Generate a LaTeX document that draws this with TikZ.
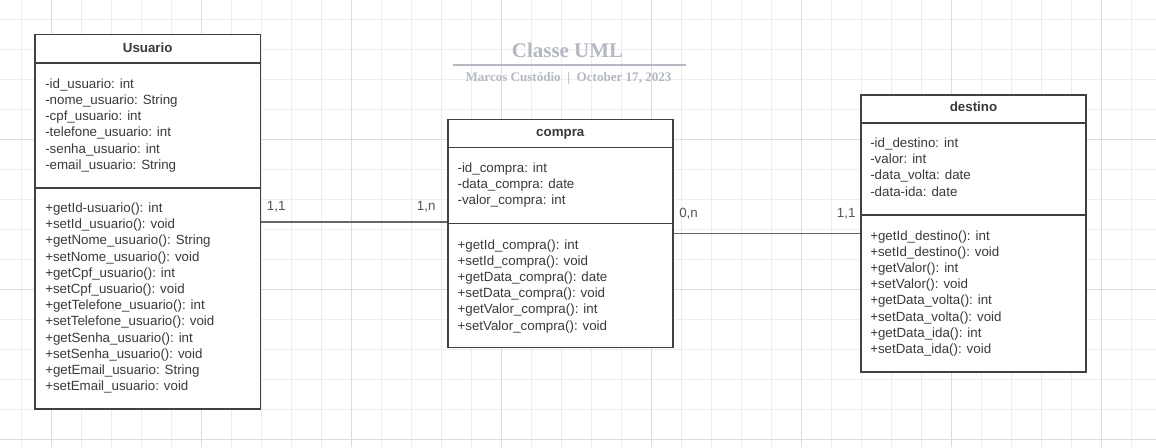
\documentclass[tikz,border=0pt]{standalone}
\usepackage{fontspec}
\setmainfont{Liberation Sans}
\newfontfamily\titlefont{Liberation Serif}
\usetikzlibrary{fit}
\definecolor{gridminor}{HTML}{EDEDED}
\definecolor{gridmajor}{HTML}{DCDCDC}
\definecolor{boxline}{HTML}{404040}
\definecolor{txtcol}{HTML}{3A3A3A}
\definecolor{lblcol}{HTML}{555555}
\definecolor{ttlcol}{HTML}{B3B8C1}
\tikzset{
  classbox/.style={draw=boxline, line width=1.2pt, fill=white, inner sep=0pt},
  divider/.style={draw=boxline, line width=1.2pt},
  member/.style={inner sep=0pt, anchor=base west, text=txtcol, font=\fontsize{10}{12}\selectfont},
  classname/.style={inner sep=0pt, anchor=base, text=txtcol, font=\bfseries\fontsize{10}{12}\selectfont},
  conn/.style={draw=lblcol!90, line width=0.8pt},
  mult/.style={inner sep=0pt, anchor=base west, text=lblcol, font=\fontsize{10}{12}\selectfont},
}
\begin{document}
\begin{tikzpicture}[x=0.75pt,y=-0.75pt]
\useasboundingbox (0,0) rectangle (1156,447);
\fill[white] (0,0) rectangle (1156,447);
% grid
\foreach \x in {21.7,51.7,...,1150} \draw[gridminor, line width=0.75pt] (\x,0) -- (\x,447);
\foreach \y in {19,49,...,447} \draw[gridminor, line width=0.75pt] (0,\y) -- (1156,\y);
\foreach \x in {51.7,201.7,...,1150} \draw[gridmajor, line width=0.75pt] (\x,0) -- (\x,447);
\foreach \y in {139,289,439} \draw[gridmajor, line width=0.75pt] (0,\y) -- (1156,\y);

% title
\node[inner sep=0pt, anchor=base, text=ttlcol, font=\titlefont\bfseries\fontsize{15.7}{18}\selectfont] (title) at (567.5,57) {Classe UML};
\coordinate (tl) at (453,65);
\coordinate (tr) at (686,65);
\draw[ttlcol, line width=1.4pt] (tl) -- (tr);
\node[inner sep=0pt, anchor=base, text=ttlcol, font=\titlefont\bfseries\fontsize{9.8}{12}\selectfont] (subtitle) at (568.5,81.5) {Marcos Custódio\hspace{0.5em}|\hspace{0.5em}October 17, 2023};

% Usuario
\node[classbox, fit={(35,34.3) (260.3,408.7)}] (usuario) {};
\draw[divider] (usuario.west |- 0,62.7) -- (usuario.east |- 0,62.7);
\draw[divider] (usuario.west |- 0,187.7) -- (usuario.east |- 0,187.7);
\node[classname] (usuario-name) at (147.7,52.7) {Usuario};
\foreach \t [count=\i from 0] in {-id\_usuario: int,-nome\_usuario: String,-cpf\_usuario: int,-telefone\_usuario: int,-senha\_usuario: int,-email\_usuario: String}
  \node[member] (usuario-a\i) at (45,88.3+16.2*\i) {\t};
\foreach \t [count=\i from 0] in {+getId-usuario(): int,+setId\_usuario(): void,+getNome\_usuario(): String,+setNome\_usuario(): void,+getCpf\_usuario(): int,+setCpf\_usuario(): void,+getTelefone\_usuario(): int,+setTelefone\_usuario(): void,+getSenha\_usuario(): int,+setSenha\_usuario(): void,+getEmail\_usuario: String,+setEmail\_usuario: void}
  \node[member] (usuario-m\i) at (45,212.5+16.2*\i) {\t};

% compra
\node[classbox, fit={(447.7,119.3) (673,347.3)}] (compra) {};
\draw[divider] (compra.west |- 0,147.3) -- (compra.east |- 0,147.3);
\draw[divider] (compra.west |- 0,223.3) -- (compra.east |- 0,223.3);
\node[classname] (compra-name) at (560.3,136.7) {compra};
\foreach \t [count=\i from 0] in {-id\_compra: int,-data\_compra: date,-valor\_compra: int}
  \node[member] (compra-a\i) at (457.3,172.5+16.2*\i) {\t};
\foreach \t [count=\i from 0] in {+getId\_compra(): int,+setId\_compra(): void,+getData\_compra(): date,+setData\_compra(): void,+getValor\_compra(): int,+setValor\_compra(): void}
  \node[member] (compra-m\i) at (457.3,249+16.2*\i) {\t};

% destino
\node[classbox, fit={(861,95) (1086,372)}] (destino) {};
\draw[divider] (destino.west |- 0,123) -- (destino.east |- 0,123);
\draw[divider] (destino.west |- 0,215) -- (destino.east |- 0,215);
\node[classname] (destino-name) at (973.5,111.7) {destino};
\foreach \t [count=\i from 0] in {-id\_destino: int,-valor: int,-data\_volta: date,-data-ida: date}
  \node[member] (destino-a\i) at (870,147.5+16.2*\i) {\t};
\foreach \t [count=\i from 0] in {+getId\_destino(): int,+setId\_destino(): void,+getValor(): int,+setValor(): void,+getData\_volta(): int,+setData\_volta(): void,+getData\_ida(): int,+setData\_ida(): void}
  \node[member] (destino-m\i) at (870,240+16.2*\i) {\t};

% connectors
\draw[conn] (usuario.east |- 0,222) -- (compra.west |- 0,222);
\draw[conn] (compra.east |- 0,233.3) -- (destino.west |- 0,233.3);
\node[mult] (m1) at (266.7,210.7) {1,1};
\node[mult] (m2) at (416.7,210.7) {1,n};
\node[mult] (m3) at (679,217.7) {0,n};
\node[mult] (m4) at (836.7,217.7) {1,1};
\end{tikzpicture}
\end{document}
